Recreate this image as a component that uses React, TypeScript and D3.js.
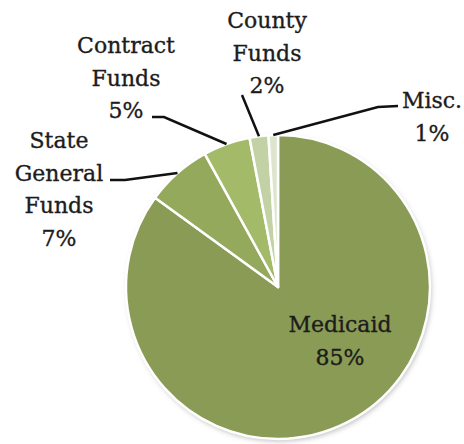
import React from "react";
import * as d3 from "d3";

const categories = ["Medicaid", "State General Funds", "Contract Funds", "County Funds", "Misc."];
const values = [85, 7, 5, 2, 1];
const labelLines = [["Medicaid", "85%"], ["State", "General", "Funds", "7%"], ["Contract", "Funds", "5%"], ["County", "Funds", "2%"], ["Misc.", "1%"]];
const colors = ["#8a9b55", "#95a95d", "#a3bb69", "#c3d2a4", "#dde6cc"];

const W = 464, H = 444;
const cx = 278, cy = 287, R = 152;

// layout: label centre x, first baseline y, elbow points for leader line
const layout = [
  { x: 340, y: 332, elbow: null as null | [number, number][] },
  { x: 59, y: 148, elbow: [[110, 180], [125, 180]] as [number, number][] },
  { x: 126, y: 53, elbow: [[152, 117], [164, 117]] as [number, number][] },
  { x: 267, y: 28, elbow: [[242, 95]] as [number, number][] },
  { x: 432, y: 108, elbow: [[398, 106], [378, 107]] as [number, number][] },
];

export default function App() {
  const pie = d3.pie<number>().sort(null).startAngle(0).endAngle(2 * Math.PI);
  const arcs = pie(values);
  const arc = d3.arc<d3.PieArcDatum<number>>().innerRadius(0).outerRadius(R);
  const font = "'DejaVu Serif', serif";
  return (
    <svg width={W} height={H} style={{ position: "absolute", left: 0, top: 0, background: "#fff" }}>
      <defs>
        <filter id="sh" x="-20%" y="-20%" width="140%" height="140%">
          <feDropShadow dx="1.5" dy="2.5" stdDeviation="2.5" floodColor="#777" floodOpacity="0.45" />
        </filter>
      </defs>
      <g transform={`translate(${cx},${cy})`}>
        <circle r={R} fill="#fff" filter="url(#sh)" />
        {arcs.map((a, i) => (
          <path key={categories[i]} d={arc(a) || ""} fill={colors[i]} stroke="#fff" strokeWidth={2.5} strokeLinejoin="round" />
        ))}
      </g>
      {arcs.map((a, i) => {
        const L = layout[i];
        if (!L.elbow) return null;
        const mid = (a.startAngle + a.endAngle) / 2;
        const ex = cx + R * Math.sin(mid);
        const ey = cy - R * Math.cos(mid);
        const pts: [number, number][] = [...L.elbow, [ex, ey]];
        return <path key={"l" + i} d={d3.line()(pts) || ""} fill="none" stroke="#111" strokeWidth={2.5} />;
      })}
      {labelLines.map((lines, i) => (
        <text key={"t" + i} x={layout[i].x} y={layout[i].y} textAnchor="middle" fontFamily={font} fontSize={22} fill="#1c1c1c" stroke="#1c1c1c" strokeWidth={0.35}>
          {lines.map((ln, j) => (
            <tspan key={j} x={layout[i].x} y={layout[i].y + j * 32.5}>{ln}</tspan>
          ))}
        </text>
      ))}
    </svg>
  );
}
